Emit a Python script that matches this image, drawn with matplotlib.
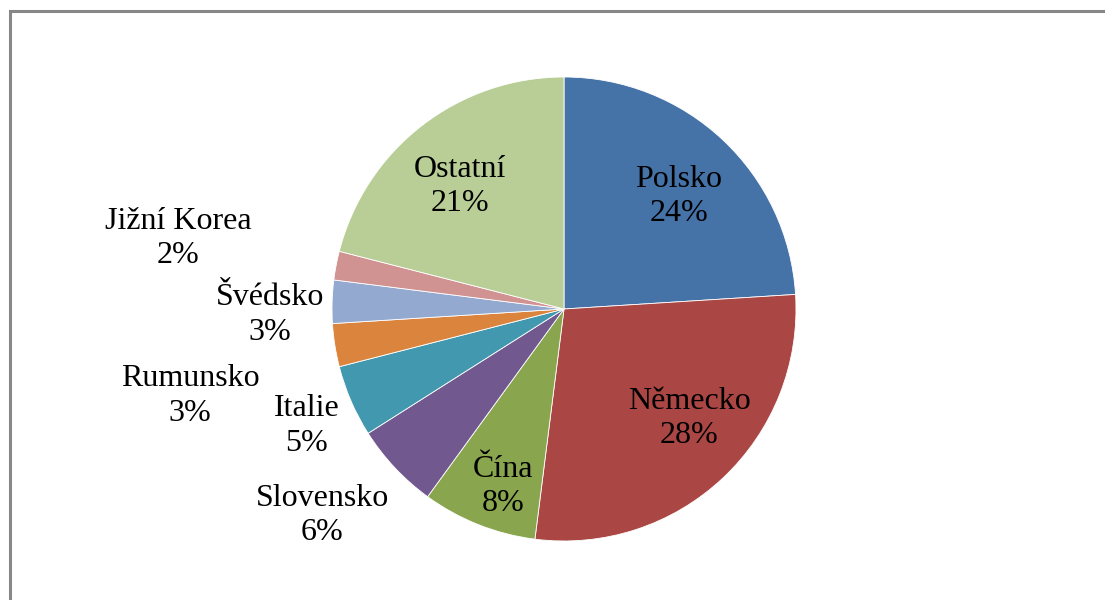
import matplotlib
matplotlib.use("Agg")
import matplotlib.pyplot as plt
from matplotlib.patches import Rectangle

# Shares by country (%)
countries = ["Polsko", "Německo", "Čína", "Slovensko", "Italie",
             "Rumunsko", "Švédsko", "Jižní Korea", "Ostatní"]
shares = [24, 28, 8, 6, 5, 3, 3, 2, 21]
colors = ["#4572A7", "#AA4643", "#89A54E", "#71588F", "#4198AF",
          "#DB843D", "#93A9CF", "#D19392", "#B9CD96"]

# Label centres in pie-radius units
label_xy = [(0.496, 0.485), (0.539, -0.472), (-0.263, -0.765), (-1.043, -0.89),
            (-1.108, -0.506), (-1.612, -0.373), (-1.267, -0.024),
            (-1.664, 0.304), (-0.448, 0.528)]

plt.rcParams['font.family'] = ['Liberation Serif', 'DejaVu Serif']

fig = plt.figure(figsize=(11.05, 6), dpi=100)
ax = fig.add_axes([0, 0, 1, 1])

ax.pie(shares, colors=colors, startangle=90, counterclock=False,
       radius=1, center=(0, 0),
       wedgeprops=dict(edgecolor="white", linewidth=0.6))

total = sum(shares)
for name, val, (x, y) in zip(countries, shares, label_xy):
    ax.text(x, y, f"{name}\n{val / total * 100:.0f}%", ha="center", va="center",
            fontsize=23, linespacing=1.27, color="black")

# 232 px per unit, pie centre at (564, 309) px
ax.set_xlim(-564 / 232, (1105 - 564) / 232)
ax.set_ylim(-(600 - 309) / 232, 309 / 232)
ax.set_aspect("auto")
ax.axis("off")

# chart area border (left and top edges visible)
fig.patches.append(Rectangle((9.5 / 1105, -0.1), 1.2, 1 - 11 / 600 + 0.1,
                             transform=fig.transFigure, fill=False,
                             edgecolor="#878787", linewidth=2.2))

fig.savefig("out.png", dpi=100)
